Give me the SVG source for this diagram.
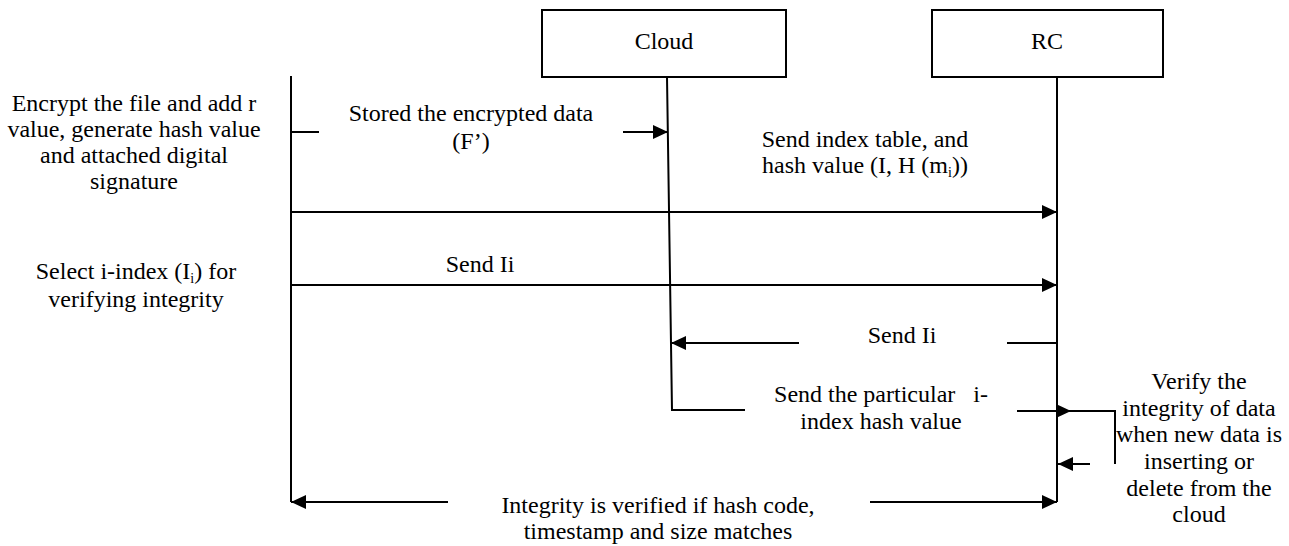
<svg xmlns="http://www.w3.org/2000/svg" width="1289" height="546" viewBox="0 0 1289 546">
<style>
.t{font-family:"Liberation Serif","Times New Roman",serif;font-size:24px;fill:#000;text-anchor:middle}
.box{fill:#fff;stroke:#000;stroke-width:2}
.ln{fill:none;stroke:#000;stroke-width:2}
.sub{font-size:14px}
</style>
<defs>
<marker id="ah" markerUnits="userSpaceOnUse" markerWidth="15" markerHeight="14" refX="15" refY="7" orient="auto">
<path d="M0,0 L15,7 L0,14 z" fill="#000"/>
</marker>
</defs>
<rect width="1289" height="546" fill="#fff"/>

<g id="cloud">
<rect class="box" x="542" y="10" width="244" height="67"/>
<text class="t" x="664" y="49">Cloud</text>
</g>
<g id="rc">
<rect class="box" x="932" y="10" width="231" height="67"/>
<text class="t" x="1047" y="49">RC</text>
</g>
<g id="user-note-1">
<text class="t" x="134" y="111">Encrypt the file and add r</text>
<text class="t" x="134" y="137">value, generate hash value</text>
<text class="t" x="134" y="163">and attached digital</text>
<text class="t" x="134" y="189">signature</text>
</g>
<g id="user-note-2">
<text class="t" x="136" y="279">Select i-index (I<tspan class="sub" dy="4">i</tspan><tspan dy="-4">) for</tspan></text>
<text class="t" x="136" y="307">verifying integrity</text>
</g>
<g id="rc-note">
<text class="t" x="1199" y="389">Verify the</text>
<text class="t" x="1199" y="416">integrity of data</text>
<text class="t" x="1199" y="442">when new data is</text>
<text class="t" x="1199" y="469">inserting or</text>
<text class="t" x="1199" y="496">delete from the</text>
<text class="t" x="1199" y="522">cloud</text>
</g>

<g id="connectors">
<path class="ln" d="M291,76 L291,502"/>
<path class="ln" d="M667,77 L672,410 L745,410"/>
<path class="ln" d="M1057,77 L1057,502"/>
<path class="ln" d="M291,132 L319,132"/>
<path class="ln" d="M623,132 L668,132" marker-end="url(#ah)"/>
<path class="ln" d="M291,212 L1057,212" marker-end="url(#ah)"/>
<path class="ln" d="M291,285 L1057,285" marker-end="url(#ah)"/>
<path class="ln" d="M1007,343 L1057,343"/>
<path class="ln" d="M799,343 L671,343" marker-end="url(#ah)"/>
<path class="ln" d="M1017,411 L1071,411" marker-end="url(#ah)"/>
<path class="ln" d="M1069,411 L1115,411 L1115,464"/>
<path class="ln" d="M1090,464 L1058,464" marker-end="url(#ah)"/>
<path class="ln" d="M448,502 L291,502" marker-end="url(#ah)"/>
<path class="ln" d="M870,502 L1057,502" marker-end="url(#ah)"/>
</g>

<g id="labels">
<text class="t" x="471" y="121">Stored the encrypted data</text>
<text class="t" x="471" y="149">(F’)</text>
<text class="t" x="865" y="147">Send index table, and</text>
<text class="t" x="865" y="173">hash value (I, H (m<tspan class="sub" dy="4">i</tspan><tspan dy="-4">))</tspan></text>
<text class="t" x="480" y="272">Send Ii</text>
<text class="t" x="902" y="343">Send Ii</text>
<text class="t" x="881" y="402" xml:space="preserve">Send the particular   i-</text>
<text class="t" x="881" y="429">index hash value</text>
<text class="t" x="658" y="513">Integrity is verified if hash code,</text>
<text class="t" x="658" y="539">timestamp and size matches</text>
</g>
</svg>
